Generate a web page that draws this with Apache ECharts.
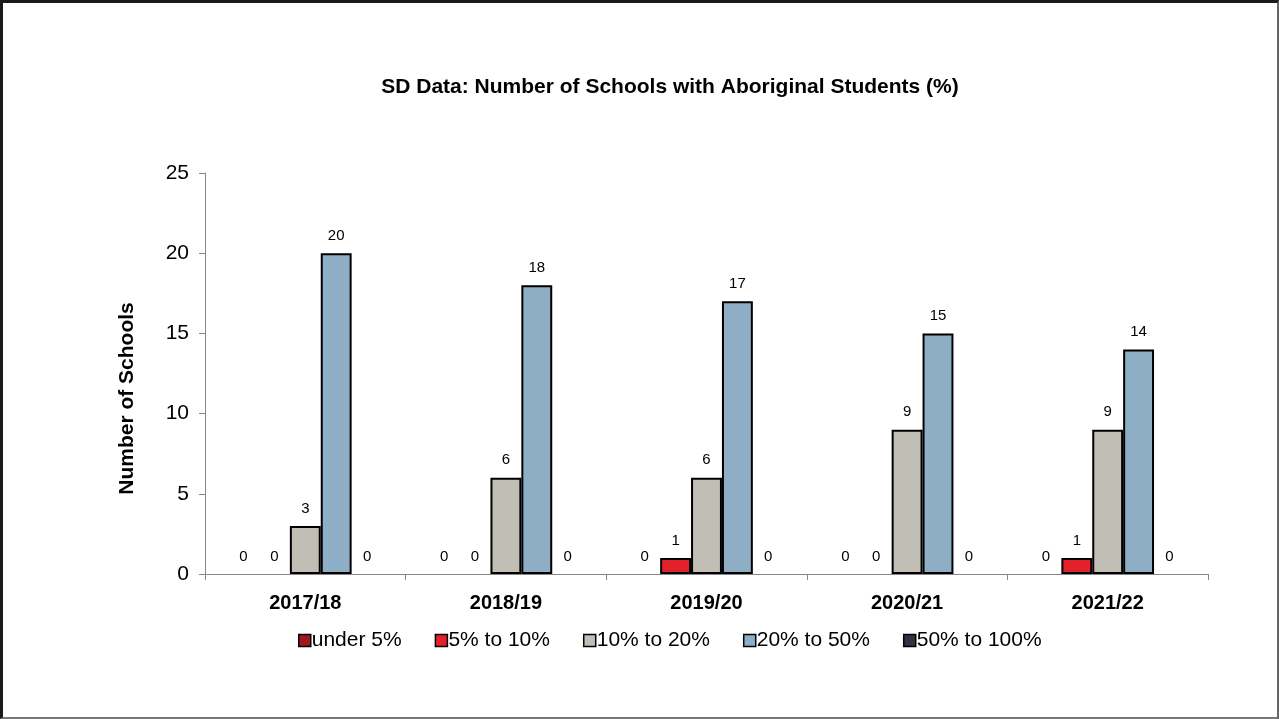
<!DOCTYPE html>
<html><head><meta charset="utf-8">
<script src="https://cdn.jsdelivr.net/npm/echarts@6/dist/echarts.min.js"></script>
<style>
html,body{margin:0;padding:0;background:#fff;}
#frame{position:absolute;left:0;top:0;width:1279px;height:719px;box-sizing:border-box;border-left:3px solid #1a1a1a;border-top:3px solid #1a1a1a;border-right:2px solid #666;border-bottom:2px solid #777;}
#chart{position:absolute;left:0;top:0;width:1279px;height:719px;}
</style></head>
<body>
<div id="chart"></div>
<div id="frame"></div>
<script>
const categories = ['2017/18','2018/19','2019/20','2020/21','2021/22'];
const seriesNames = ['under 5%','5% to 10%','10% to 20%','20% to 50%','50% to 100%'];
const under5 = [0,0,0,0,0];
const p5to10 = [0,0,1,0,1];
const p10to20 = [3,6,6,9,9];
const p20to50 = [20,18,17,15,14];
const p50to100 = [0,0,0,0,0];
const colors = ['#9c1a1f','#e3212b','#c1beb6','#8eaec6','#2f3440'];
const allData = [under5,p5to10,p10to20,p20to50,p50to100];
const font = 'Liberation Sans, Arial, sans-serif';

const chart = echarts.init(document.getElementById('chart'));
chart.setOption({
  animation:false,
  backgroundColor:'#fff',
  title:{text:'SD Data: Number of Schools with Aboriginal Students (%)',left:665,top:72,textAlign:'center',
    textStyle:{fontFamily:font,fontSize:21,fontWeight:'bold',color:'#000'}},
  legend:{top:625,left:293,itemWidth:12,itemHeight:12,itemGap:33,icon:'rect',
    textStyle:{fontFamily:font,fontSize:21,color:'#000',padding:[0,0,0,-4]},
    data:seriesNames.map((n,i)=>({name:n,itemStyle:{color:colors[i],borderColor:'#000',borderWidth:1.5}}))},
  grid:{left:205,right:71,top:173,bottom:145,containLabel:false},
  xAxis:{type:'category',data:categories,
    axisLine:{lineStyle:{color:'#888',width:1}},
    axisTick:{show:true,length:6,lineStyle:{color:'#888'}},
    axisLabel:{fontFamily:font,fontSize:20,fontWeight:'bold',color:'#000',margin:19}},
  yAxis:{type:'value',min:0,max:25,interval:5,
    name:'Number of Schools',nameLocation:'middle',nameGap:67,nameRotate:90,
    nameTextStyle:{fontFamily:font,fontSize:21,fontWeight:'bold',color:'#000',padding:[0,50,0,0]},
    splitLine:{show:false},
    axisLine:{show:true,lineStyle:{color:'#888',width:1}},
    axisTick:{show:true,length:6,lineStyle:{color:'#888'}},
    axisLabel:{fontFamily:font,fontSize:21,color:'#000',margin:16}},
  series:seriesNames.map((n,i)=>({
    name:n,type:'bar',barGap:'0%',barCategoryGap:'23%',
    itemStyle:{color:colors[i],borderColor:'#000',borderWidth:2},
    label:{show:true,position:'top',distance:10,fontFamily:font,fontSize:15,color:'#000'},
    data:allData[i].map(v=>v===0?{value:v,itemStyle:{borderWidth:0}}:v)
  }))
});
</script>
</body></html>
